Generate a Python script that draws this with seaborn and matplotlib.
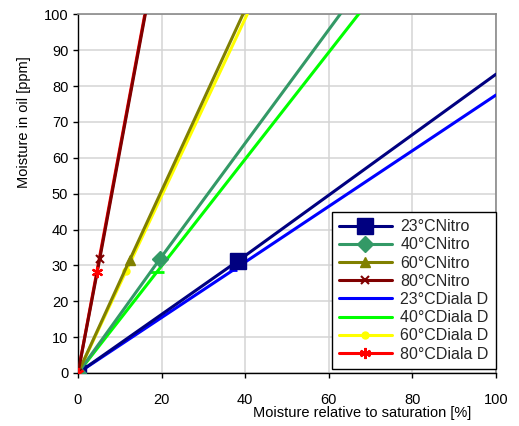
import matplotlib
matplotlib.use("Agg")
import matplotlib.pyplot as plt
import seaborn as sns
import pandas as pd

sns.set_theme(style="white")
plt.rcParams['font.family'] = ['Liberation Sans', 'DejaVu Sans']

# Data: (0,0), measured point, extension point (clipped by axes)
labels = ["23°CNitro", "40°CNitro", "60°CNitro", "80°CNitro",
          "23°CDiala D", "40°CDiala D", "60°CDiala D", "80°CDiala D"]
x_n23 = [0, 38.2, 100]
y_n23 = [0, 31.2, 83.3]
x_n40 = [0, 19.6, 100]
y_n40 = [0, 31.8, 159.0]
x_n60 = [0, 12.4, 100]
y_n60 = [0, 31.6, 253.0]
x_n80 = [0, 5.2, 100]
y_n80 = [0, 31.8, 625.0]
x_d23 = [0, 37.0, 100]
y_d23 = [0, 28.6, 77.5]
x_d40 = [0, 18.9, 100]
y_d40 = [0, 28.2, 149.0]
x_d60 = [0, 11.5, 100]
y_d60 = [0, 28.4, 247.0]
x_d80 = [0, 4.5, 100]
y_d80 = [0, 28.2, 625.0]

xs = [x_n23, x_n40, x_n60, x_n80, x_d23, x_d40, x_d60, x_d80]
ys = [y_n23, y_n40, y_n60, y_n80, y_d23, y_d40, y_d60, y_d80]
colors = ["#000080", "#339966", "#808000", "#800000",
          "#0000FF", "#00FF00", "#FFFF00", "#FF0000"]
markers = ["s", "D", "^", "x", "_", "_", "o", (6, 2, 0)]
msizes = [11, 8, 7, 6, 6, 10, 5, 8]
zords = [4, 4, 4, 5, 3, 3, 3, 2]

fig = plt.figure(figsize=(5.19, 4.26), dpi=100)
ax = fig.add_axes([78/519, 1 - 373/426, (496-78)/519, (373-14.3)/426])

for i in range(8):
    df = pd.DataFrame({"x": xs[i], "y": ys[i]})
    mew = 1.5 if markers[i] in ("x", "_") or i == 7 else 1
    sns.lineplot(data=df, x="x", y="y", ax=ax, sort=False, color=colors[i],
                 linewidth=2.2, marker=markers[i], markersize=msizes[i],
                 markeredgecolor=colors[i], markerfacecolor=colors[i],
                 markeredgewidth=2 if markers[i] == "_" else mew,
                 markevery=[0, 1], label=labels[i], zorder=zords[i],
                 clip_on=True)
# red markers of 80°C Diala D drawn on top
ax.plot(x_d80[:2], y_d80[:2], linestyle="none", marker=(6, 2, 0), markersize=8,
        color="#FF0000", markeredgewidth=1.5, zorder=6)

ax.set_xlim(0, 100)
ax.set_ylim(0, 100)
ax.set_xticks(range(0, 101, 20))
ax.set_yticks(range(0, 101, 10))
ax.grid(True, color="#d4d4d4", linewidth=1.1)
ax.set_axisbelow(True)
for s in ["top", "right"]:
    ax.spines[s].set_color("#8a8a8a")
    ax.spines[s].set_linewidth(1.2)
for s in ["left", "bottom"]:
    ax.spines[s].set_color("black")
    ax.spines[s].set_linewidth(1.0)
ax.tick_params(axis="both", which="both", direction="out", length=3.5, width=1,
               color="black", labelsize=10.5, labelcolor="black")
ax.tick_params(axis="x", pad=11, bottom=True)
ax.tick_params(axis="y", pad=3.5, left=True)

ax.set_xlabel("Moisture relative to saturation [%]", fontsize=10.5, color="black")
ax.set_ylabel("Moisture in oil [ppm]", fontsize=10.5, color="black")
ax.xaxis.set_label_coords(0.68, -0.093)
ax.yaxis.set_label_coords(-0.112, 0.70)

leg = ax.legend(loc="lower right", bbox_to_anchor=(1.0, 0.012), fontsize=11.5,
                frameon=True, fancybox=False, framealpha=1, edgecolor="black",
                handlelength=3.3, borderpad=0.45, labelspacing=0.2,
                handletextpad=0.55, borderaxespad=0)
leg.get_frame().set_linewidth(1.0)
leg.set_zorder(10)

fig.savefig("out.png", dpi=100)
